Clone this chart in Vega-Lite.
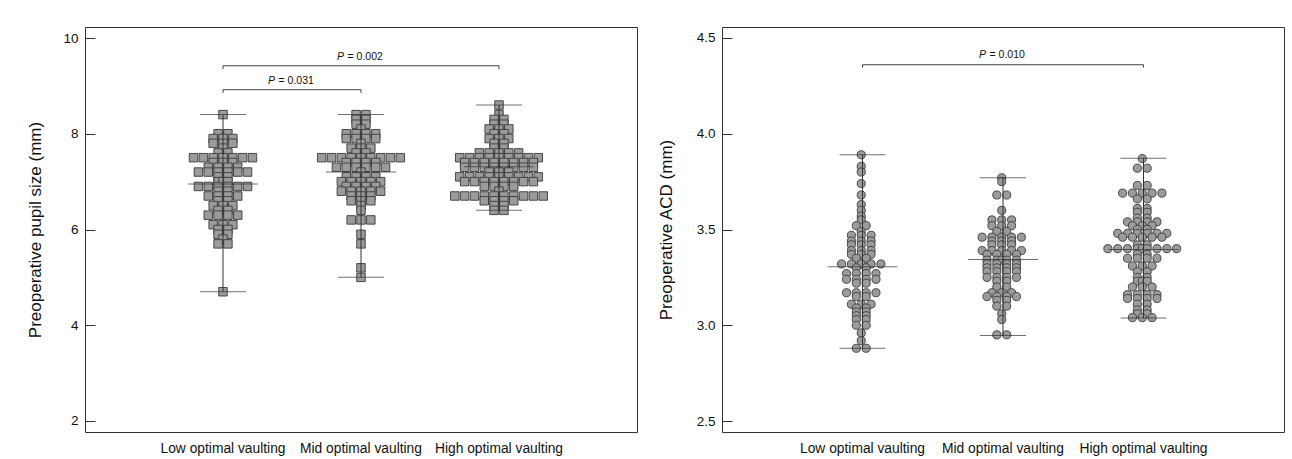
{
  "$schema": "https://vega.github.io/schema/vega-lite/v6.json",
  "background": "white",
  "padding": {"left": 26, "top": 26, "right": 0, "bottom": 0},
  "spacing": 18,
  "config": {
    "font": "Liberation Sans",
    "view": {"stroke": "#333333", "strokeWidth": 1},
    "axisX": {"ticks": false, "domain": false, "labelAngle": 0, "labelFontSize": 13.8, "labelPadding": 9, "labelColor": "#111111"},
    "axisY": {"grid": false, "domain": false, "tickSize": -10, "tickColor": "#333333", "labelPadding": 17, "labelFontSize": 13.5, "labelColor": "#111111", "titleFontSize": 17, "titleFontWeight": "normal", "titleColor": "#111111", "titlePadding": 18}
  },
  "datasets": {
    "pupil": [
      {"g":"Low","v":8.4,"dx":0},
      {"g":"Low","v":8.0,"dx":-1},{"g":"Low","v":8.0,"dx":1},
      {"g":"Low","v":7.9,"dx":-2},{"g":"Low","v":7.9,"dx":0},{"g":"Low","v":7.9,"dx":2},
      {"g":"Low","v":7.8,"dx":-2},{"g":"Low","v":7.8,"dx":0},{"g":"Low","v":7.8,"dx":2},
      {"g":"Low","v":7.7,"dx":0},
      {"g":"Low","v":7.6,"dx":-1},{"g":"Low","v":7.6,"dx":1},
      {"g":"Low","v":7.5,"dx":-6},{"g":"Low","v":7.5,"dx":-4},{"g":"Low","v":7.5,"dx":-2},{"g":"Low","v":7.5,"dx":0},{"g":"Low","v":7.5,"dx":2},{"g":"Low","v":7.5,"dx":4},{"g":"Low","v":7.5,"dx":6},
      {"g":"Low","v":7.4,"dx":-2},{"g":"Low","v":7.4,"dx":0},{"g":"Low","v":7.4,"dx":2},
      {"g":"Low","v":7.3,"dx":-3},{"g":"Low","v":7.3,"dx":-1},{"g":"Low","v":7.3,"dx":1},{"g":"Low","v":7.3,"dx":3},
      {"g":"Low","v":7.2,"dx":-5},{"g":"Low","v":7.2,"dx":-3},{"g":"Low","v":7.2,"dx":-1},{"g":"Low","v":7.2,"dx":1},{"g":"Low","v":7.2,"dx":3},{"g":"Low","v":7.2,"dx":5},
      {"g":"Low","v":7.1,"dx":-1},{"g":"Low","v":7.1,"dx":1},
      {"g":"Low","v":7.0,"dx":-1},{"g":"Low","v":7.0,"dx":0},{"g":"Low","v":7.0,"dx":1},
      {"g":"Low","v":6.9,"dx":-5},{"g":"Low","v":6.9,"dx":-3},{"g":"Low","v":6.9,"dx":-1},{"g":"Low","v":6.9,"dx":1},{"g":"Low","v":6.9,"dx":3},{"g":"Low","v":6.9,"dx":5},
      {"g":"Low","v":6.8,"dx":-1},{"g":"Low","v":6.8,"dx":1},
      {"g":"Low","v":6.7,"dx":-3},{"g":"Low","v":6.7,"dx":-1},{"g":"Low","v":6.7,"dx":1},{"g":"Low","v":6.7,"dx":3},
      {"g":"Low","v":6.6,"dx":-1},{"g":"Low","v":6.6,"dx":1},
      {"g":"Low","v":6.5,"dx":-2},{"g":"Low","v":6.5,"dx":0},{"g":"Low","v":6.5,"dx":2},
      {"g":"Low","v":6.4,"dx":-1},{"g":"Low","v":6.4,"dx":1},
      {"g":"Low","v":6.3,"dx":-3},{"g":"Low","v":6.3,"dx":-1},{"g":"Low","v":6.3,"dx":1},{"g":"Low","v":6.3,"dx":3},
      {"g":"Low","v":6.1,"dx":-2},{"g":"Low","v":6.1,"dx":0},{"g":"Low","v":6.1,"dx":2},
      {"g":"Low","v":6.0,"dx":-1},{"g":"Low","v":6.0,"dx":1},
      {"g":"Low","v":5.9,"dx":-1},{"g":"Low","v":5.9,"dx":1},
      {"g":"Low","v":5.8,"dx":0},
      {"g":"Low","v":5.7,"dx":-1},{"g":"Low","v":5.7,"dx":1},
      {"g":"Low","v":4.7,"dx":0},

      {"g":"Mid","v":8.4,"dx":-1},{"g":"Mid","v":8.4,"dx":1},
      {"g":"Mid","v":8.3,"dx":-1},{"g":"Mid","v":8.3,"dx":1},
      {"g":"Mid","v":8.2,"dx":-1},{"g":"Mid","v":8.2,"dx":1},
      {"g":"Mid","v":8.1,"dx":0},
      {"g":"Mid","v":8.0,"dx":-3},{"g":"Mid","v":8.0,"dx":-1},{"g":"Mid","v":8.0,"dx":1},{"g":"Mid","v":8.0,"dx":3},
      {"g":"Mid","v":7.9,"dx":-3},{"g":"Mid","v":7.9,"dx":-1},{"g":"Mid","v":7.9,"dx":1},{"g":"Mid","v":7.9,"dx":3},
      {"g":"Mid","v":7.8,"dx":0},
      {"g":"Mid","v":7.7,"dx":-2},{"g":"Mid","v":7.7,"dx":0},{"g":"Mid","v":7.7,"dx":2},
      {"g":"Mid","v":7.6,"dx":-1},{"g":"Mid","v":7.6,"dx":1},
      {"g":"Mid","v":7.5,"dx":-8},{"g":"Mid","v":7.5,"dx":-6},{"g":"Mid","v":7.5,"dx":-4},{"g":"Mid","v":7.5,"dx":-2},{"g":"Mid","v":7.5,"dx":0},{"g":"Mid","v":7.5,"dx":2},{"g":"Mid","v":7.5,"dx":4},{"g":"Mid","v":7.5,"dx":6},{"g":"Mid","v":7.5,"dx":8},
      {"g":"Mid","v":7.4,"dx":-3},{"g":"Mid","v":7.4,"dx":-1},{"g":"Mid","v":7.4,"dx":1},{"g":"Mid","v":7.4,"dx":3},
      {"g":"Mid","v":7.3,"dx":-5},{"g":"Mid","v":7.3,"dx":-3},{"g":"Mid","v":7.3,"dx":-1},{"g":"Mid","v":7.3,"dx":1},{"g":"Mid","v":7.3,"dx":3},{"g":"Mid","v":7.3,"dx":5},
      {"g":"Mid","v":7.2,"dx":0},
      {"g":"Mid","v":7.1,"dx":-3},{"g":"Mid","v":7.1,"dx":-1},{"g":"Mid","v":7.1,"dx":1},{"g":"Mid","v":7.1,"dx":3},
      {"g":"Mid","v":7.0,"dx":-4},{"g":"Mid","v":7.0,"dx":-2},{"g":"Mid","v":7.0,"dx":0},{"g":"Mid","v":7.0,"dx":2},{"g":"Mid","v":7.0,"dx":4},
      {"g":"Mid","v":6.9,"dx":-3},{"g":"Mid","v":6.9,"dx":-1},{"g":"Mid","v":6.9,"dx":1},{"g":"Mid","v":6.9,"dx":3},
      {"g":"Mid","v":6.8,"dx":-4},{"g":"Mid","v":6.8,"dx":-2},{"g":"Mid","v":6.8,"dx":0},{"g":"Mid","v":6.8,"dx":2},{"g":"Mid","v":6.8,"dx":4},
      {"g":"Mid","v":6.7,"dx":-2},{"g":"Mid","v":6.7,"dx":0},{"g":"Mid","v":6.7,"dx":2},
      {"g":"Mid","v":6.6,"dx":-2},{"g":"Mid","v":6.6,"dx":0},{"g":"Mid","v":6.6,"dx":2},
      {"g":"Mid","v":6.5,"dx":0},
      {"g":"Mid","v":6.4,"dx":0},
      {"g":"Mid","v":6.2,"dx":-2},{"g":"Mid","v":6.2,"dx":0},{"g":"Mid","v":6.2,"dx":2},
      {"g":"Mid","v":5.9,"dx":0},
      {"g":"Mid","v":5.7,"dx":0},
      {"g":"Mid","v":5.2,"dx":0},
      {"g":"Mid","v":5.0,"dx":0},

      {"g":"High","v":8.6,"dx":0},
      {"g":"High","v":8.4,"dx":0},
      {"g":"High","v":8.3,"dx":-1},{"g":"High","v":8.3,"dx":1},
      {"g":"High","v":8.2,"dx":-1},{"g":"High","v":8.2,"dx":1},
      {"g":"High","v":8.1,"dx":-2},{"g":"High","v":8.1,"dx":0},{"g":"High","v":8.1,"dx":2},
      {"g":"High","v":8.0,"dx":-1},{"g":"High","v":8.0,"dx":1},
      {"g":"High","v":7.9,"dx":-2},{"g":"High","v":7.9,"dx":0},{"g":"High","v":7.9,"dx":2},
      {"g":"High","v":7.8,"dx":-1},{"g":"High","v":7.8,"dx":1},
      {"g":"High","v":7.7,"dx":-1},{"g":"High","v":7.7,"dx":1},
      {"g":"High","v":7.6,"dx":-4},{"g":"High","v":7.6,"dx":-2},{"g":"High","v":7.6,"dx":0},{"g":"High","v":7.6,"dx":2},{"g":"High","v":7.6,"dx":4},
      {"g":"High","v":7.5,"dx":-8},{"g":"High","v":7.5,"dx":-6},{"g":"High","v":7.5,"dx":-4},{"g":"High","v":7.5,"dx":-2},{"g":"High","v":7.5,"dx":0},{"g":"High","v":7.5,"dx":2},{"g":"High","v":7.5,"dx":4},{"g":"High","v":7.5,"dx":6},{"g":"High","v":7.5,"dx":8},
      {"g":"High","v":7.4,"dx":-7},{"g":"High","v":7.4,"dx":-5},{"g":"High","v":7.4,"dx":-3},{"g":"High","v":7.4,"dx":-1},{"g":"High","v":7.4,"dx":1},{"g":"High","v":7.4,"dx":3},{"g":"High","v":7.4,"dx":5},{"g":"High","v":7.4,"dx":7},
      {"g":"High","v":7.3,"dx":-7},{"g":"High","v":7.3,"dx":-5},{"g":"High","v":7.3,"dx":-3},{"g":"High","v":7.3,"dx":-1},{"g":"High","v":7.3,"dx":1},{"g":"High","v":7.3,"dx":3},{"g":"High","v":7.3,"dx":5},{"g":"High","v":7.3,"dx":7},
      {"g":"High","v":7.2,"dx":-2},{"g":"High","v":7.2,"dx":0},{"g":"High","v":7.2,"dx":2},
      {"g":"High","v":7.1,"dx":-8},{"g":"High","v":7.1,"dx":-6},{"g":"High","v":7.1,"dx":-4},{"g":"High","v":7.1,"dx":-2},{"g":"High","v":7.1,"dx":0},{"g":"High","v":7.1,"dx":2},{"g":"High","v":7.1,"dx":4},{"g":"High","v":7.1,"dx":6},{"g":"High","v":7.1,"dx":8},
      {"g":"High","v":7.0,"dx":-7},{"g":"High","v":7.0,"dx":-5},{"g":"High","v":7.0,"dx":-3},{"g":"High","v":7.0,"dx":-1},{"g":"High","v":7.0,"dx":1},{"g":"High","v":7.0,"dx":3},{"g":"High","v":7.0,"dx":5},{"g":"High","v":7.0,"dx":7},
      {"g":"High","v":6.9,"dx":-3},{"g":"High","v":6.9,"dx":-1},{"g":"High","v":6.9,"dx":1},{"g":"High","v":6.9,"dx":3},
      {"g":"High","v":6.8,"dx":0},
      {"g":"High","v":6.7,"dx":-9},{"g":"High","v":6.7,"dx":-7},{"g":"High","v":6.7,"dx":-5},{"g":"High","v":6.7,"dx":-3},{"g":"High","v":6.7,"dx":-1},{"g":"High","v":6.7,"dx":1},{"g":"High","v":6.7,"dx":3},{"g":"High","v":6.7,"dx":5},{"g":"High","v":6.7,"dx":7},{"g":"High","v":6.7,"dx":9},
      {"g":"High","v":6.6,"dx":-3},{"g":"High","v":6.6,"dx":-1},{"g":"High","v":6.6,"dx":1},{"g":"High","v":6.6,"dx":3},
      {"g":"High","v":6.5,"dx":-1},{"g":"High","v":6.5,"dx":1},
      {"g":"High","v":6.4,"dx":-1},{"g":"High","v":6.4,"dx":1}
    ],
    "pupilStats": [
      {"g":"Low","min":4.7,"max":8.4,"mean":6.95},
      {"g":"Mid","min":5.0,"max":8.4,"mean":7.2},
      {"g":"High","min":6.4,"max":8.6,"mean":7.31}
    ],
    "pupilBr": [
      {"a":"Low","b":"Mid","y":8.92,"tip":8.85},
      {"a":"Low","b":"High","y":9.42,"tip":9.35}
    ],
    "p031": [{"g":"Low","y":9.11,"t":"= 0.031"}],
    "p002": [{"g":"Mid","y":9.61,"t":"= 0.002"}],
    "acd": [
      {"g":"Low","v":3.89,"dx":0},{"g":"Low","v":3.83,"dx":0},{"g":"Low","v":3.80,"dx":0},{"g":"Low","v":3.74,"dx":0},{"g":"Low","v":3.68,"dx":0},{"g":"Low","v":3.63,"dx":0},{"g":"Low","v":3.60,"dx":0},{"g":"Low","v":3.57,"dx":0},{"g":"Low","v":3.55,"dx":0},
      {"g":"Low","v":3.52,"dx":-1},{"g":"Low","v":3.52,"dx":1},
      {"g":"Low","v":3.49,"dx":0},
      {"g":"Low","v":3.47,"dx":-2},{"g":"Low","v":3.47,"dx":0},{"g":"Low","v":3.47,"dx":2},
      {"g":"Low","v":3.44,"dx":-2},{"g":"Low","v":3.44,"dx":0},{"g":"Low","v":3.44,"dx":2},
      {"g":"Low","v":3.42,"dx":-2},{"g":"Low","v":3.42,"dx":0},{"g":"Low","v":3.42,"dx":2},
      {"g":"Low","v":3.39,"dx":-2},{"g":"Low","v":3.39,"dx":0},{"g":"Low","v":3.39,"dx":2},
      {"g":"Low","v":3.37,"dx":-2},{"g":"Low","v":3.37,"dx":0},{"g":"Low","v":3.37,"dx":2},
      {"g":"Low","v":3.35,"dx":-1},{"g":"Low","v":3.35,"dx":1},
      {"g":"Low","v":3.32,"dx":-4},{"g":"Low","v":3.32,"dx":-2},{"g":"Low","v":3.32,"dx":0},{"g":"Low","v":3.32,"dx":2},{"g":"Low","v":3.32,"dx":4},
      {"g":"Low","v":3.30,"dx":-1},{"g":"Low","v":3.30,"dx":1},
      {"g":"Low","v":3.27,"dx":-3},{"g":"Low","v":3.27,"dx":-1},{"g":"Low","v":3.27,"dx":1},{"g":"Low","v":3.27,"dx":3},
      {"g":"Low","v":3.24,"dx":-3},{"g":"Low","v":3.24,"dx":-1},{"g":"Low","v":3.24,"dx":1},{"g":"Low","v":3.24,"dx":3},
      {"g":"Low","v":3.22,"dx":-1},{"g":"Low","v":3.22,"dx":1},
      {"g":"Low","v":3.17,"dx":-3},{"g":"Low","v":3.17,"dx":-1},{"g":"Low","v":3.17,"dx":1},{"g":"Low","v":3.17,"dx":3},
      {"g":"Low","v":3.15,"dx":-1},{"g":"Low","v":3.15,"dx":1},
      {"g":"Low","v":3.11,"dx":-2},{"g":"Low","v":3.11,"dx":0},{"g":"Low","v":3.11,"dx":2},
      {"g":"Low","v":3.09,"dx":-1},{"g":"Low","v":3.09,"dx":1},
      {"g":"Low","v":3.07,"dx":-1},{"g":"Low","v":3.07,"dx":1},
      {"g":"Low","v":3.05,"dx":-1},{"g":"Low","v":3.05,"dx":1},
      {"g":"Low","v":3.03,"dx":-1},{"g":"Low","v":3.03,"dx":1},
      {"g":"Low","v":3.00,"dx":-1},{"g":"Low","v":3.00,"dx":1},
      {"g":"Low","v":2.96,"dx":0},{"g":"Low","v":2.92,"dx":0},
      {"g":"Low","v":2.88,"dx":-1},{"g":"Low","v":2.88,"dx":1},

      {"g":"Mid","v":3.77,"dx":0},{"g":"Mid","v":3.75,"dx":0},
      {"g":"Mid","v":3.68,"dx":-1},{"g":"Mid","v":3.68,"dx":1},
      {"g":"Mid","v":3.60,"dx":0},
      {"g":"Mid","v":3.55,"dx":-2},{"g":"Mid","v":3.55,"dx":0},{"g":"Mid","v":3.55,"dx":2},
      {"g":"Mid","v":3.52,"dx":-2},{"g":"Mid","v":3.52,"dx":0},{"g":"Mid","v":3.52,"dx":2},
      {"g":"Mid","v":3.49,"dx":-1},{"g":"Mid","v":3.49,"dx":1},
      {"g":"Mid","v":3.46,"dx":-4},{"g":"Mid","v":3.46,"dx":-2},{"g":"Mid","v":3.46,"dx":0},{"g":"Mid","v":3.46,"dx":2},{"g":"Mid","v":3.46,"dx":4},
      {"g":"Mid","v":3.44,"dx":-2},{"g":"Mid","v":3.44,"dx":0},{"g":"Mid","v":3.44,"dx":2},
      {"g":"Mid","v":3.42,"dx":-2},{"g":"Mid","v":3.42,"dx":0},{"g":"Mid","v":3.42,"dx":2},
      {"g":"Mid","v":3.39,"dx":-4},{"g":"Mid","v":3.39,"dx":-2},{"g":"Mid","v":3.39,"dx":0},{"g":"Mid","v":3.39,"dx":2},{"g":"Mid","v":3.39,"dx":4},
      {"g":"Mid","v":3.37,"dx":-3},{"g":"Mid","v":3.37,"dx":-1},{"g":"Mid","v":3.37,"dx":1},{"g":"Mid","v":3.37,"dx":3},
      {"g":"Mid","v":3.34,"dx":-3},{"g":"Mid","v":3.34,"dx":-1},{"g":"Mid","v":3.34,"dx":0},{"g":"Mid","v":3.34,"dx":1},{"g":"Mid","v":3.34,"dx":3},
      {"g":"Mid","v":3.32,"dx":-3},{"g":"Mid","v":3.32,"dx":-1},{"g":"Mid","v":3.32,"dx":1},{"g":"Mid","v":3.32,"dx":3},
      {"g":"Mid","v":3.30,"dx":-3},{"g":"Mid","v":3.30,"dx":-1},{"g":"Mid","v":3.30,"dx":1},{"g":"Mid","v":3.30,"dx":3},
      {"g":"Mid","v":3.28,"dx":-3},{"g":"Mid","v":3.28,"dx":-1},{"g":"Mid","v":3.28,"dx":1},{"g":"Mid","v":3.28,"dx":3},
      {"g":"Mid","v":3.25,"dx":-3},{"g":"Mid","v":3.25,"dx":-1},{"g":"Mid","v":3.25,"dx":1},{"g":"Mid","v":3.25,"dx":3},
      {"g":"Mid","v":3.23,"dx":-1},{"g":"Mid","v":3.23,"dx":1},
      {"g":"Mid","v":3.20,"dx":-1},{"g":"Mid","v":3.20,"dx":1},
      {"g":"Mid","v":3.17,"dx":-2},{"g":"Mid","v":3.17,"dx":0},{"g":"Mid","v":3.17,"dx":2},
      {"g":"Mid","v":3.15,"dx":-3},{"g":"Mid","v":3.15,"dx":-1},{"g":"Mid","v":3.15,"dx":1},{"g":"Mid","v":3.15,"dx":3},
      {"g":"Mid","v":3.13,"dx":-1},{"g":"Mid","v":3.13,"dx":1},
      {"g":"Mid","v":3.10,"dx":-1},{"g":"Mid","v":3.10,"dx":1},
      {"g":"Mid","v":3.06,"dx":0},{"g":"Mid","v":3.03,"dx":0},
      {"g":"Mid","v":2.95,"dx":-1},{"g":"Mid","v":2.95,"dx":1},

      {"g":"High","v":3.87,"dx":0},
      {"g":"High","v":3.82,"dx":-1},{"g":"High","v":3.82,"dx":1},
      {"g":"High","v":3.73,"dx":-1},{"g":"High","v":3.73,"dx":1},
      {"g":"High","v":3.69,"dx":-4},{"g":"High","v":3.69,"dx":-2},{"g":"High","v":3.69,"dx":0},{"g":"High","v":3.69,"dx":2},{"g":"High","v":3.69,"dx":4},
      {"g":"High","v":3.66,"dx":-1},{"g":"High","v":3.66,"dx":1},
      {"g":"High","v":3.61,"dx":-1},{"g":"High","v":3.61,"dx":1},
      {"g":"High","v":3.59,"dx":-1},{"g":"High","v":3.59,"dx":1},
      {"g":"High","v":3.56,"dx":-1},{"g":"High","v":3.56,"dx":1},
      {"g":"High","v":3.54,"dx":-3},{"g":"High","v":3.54,"dx":-1},{"g":"High","v":3.54,"dx":1},{"g":"High","v":3.54,"dx":3},
      {"g":"High","v":3.52,"dx":-2},{"g":"High","v":3.52,"dx":0},{"g":"High","v":3.52,"dx":2},
      {"g":"High","v":3.50,"dx":-1},{"g":"High","v":3.50,"dx":1},
      {"g":"High","v":3.48,"dx":-5},{"g":"High","v":3.48,"dx":-3},{"g":"High","v":3.48,"dx":-1},{"g":"High","v":3.48,"dx":1},{"g":"High","v":3.48,"dx":3},{"g":"High","v":3.48,"dx":5},
      {"g":"High","v":3.46,"dx":-4},{"g":"High","v":3.46,"dx":-2},{"g":"High","v":3.46,"dx":0},{"g":"High","v":3.46,"dx":2},{"g":"High","v":3.46,"dx":4},
      {"g":"High","v":3.42,"dx":-1},{"g":"High","v":3.42,"dx":1},
      {"g":"High","v":3.40,"dx":-7},{"g":"High","v":3.40,"dx":-5},{"g":"High","v":3.40,"dx":-3},{"g":"High","v":3.40,"dx":-1},{"g":"High","v":3.40,"dx":0},{"g":"High","v":3.40,"dx":1},{"g":"High","v":3.40,"dx":3},{"g":"High","v":3.40,"dx":5},{"g":"High","v":3.40,"dx":7},
      {"g":"High","v":3.37,"dx":-1},{"g":"High","v":3.37,"dx":1},
      {"g":"High","v":3.35,"dx":-3},{"g":"High","v":3.35,"dx":-1},{"g":"High","v":3.35,"dx":1},{"g":"High","v":3.35,"dx":3},
      {"g":"High","v":3.31,"dx":-2},{"g":"High","v":3.31,"dx":0},{"g":"High","v":3.31,"dx":2},
      {"g":"High","v":3.28,"dx":-1},{"g":"High","v":3.28,"dx":1},
      {"g":"High","v":3.25,"dx":-1},{"g":"High","v":3.25,"dx":1},
      {"g":"High","v":3.23,"dx":-1},{"g":"High","v":3.23,"dx":0},{"g":"High","v":3.23,"dx":1},
      {"g":"High","v":3.20,"dx":-2},{"g":"High","v":3.20,"dx":0},{"g":"High","v":3.20,"dx":2},
      {"g":"High","v":3.16,"dx":-3},{"g":"High","v":3.16,"dx":-1},{"g":"High","v":3.16,"dx":1},{"g":"High","v":3.16,"dx":3},
      {"g":"High","v":3.14,"dx":-3},{"g":"High","v":3.14,"dx":-1},{"g":"High","v":3.14,"dx":1},{"g":"High","v":3.14,"dx":3},
      {"g":"High","v":3.11,"dx":-1},{"g":"High","v":3.11,"dx":1},
      {"g":"High","v":3.08,"dx":-1},{"g":"High","v":3.08,"dx":1},
      {"g":"High","v":3.06,"dx":-1},{"g":"High","v":3.06,"dx":1},
      {"g":"High","v":3.04,"dx":-2},{"g":"High","v":3.04,"dx":0},{"g":"High","v":3.04,"dx":2}
    ],
    "acdStats": [
      {"g":"Low","min":2.88,"max":3.89,"mean":3.305},
      {"g":"Mid","min":2.947,"max":3.77,"mean":3.344},
      {"g":"High","min":3.038,"max":3.872,"mean":3.395}
    ],
    "acdBr": [
      {"a":"Low","b":"High","y":4.36,"tip":4.345}
    ],
    "p010": [{"g":"Mid","y":4.41,"t":"= 0.010"}]
  },
  "hconcat": [
    {
      "width": 552,
      "height": 405,
      "layer": [
        {
          "data": {"name": "pupil"},
          "mark": {"type": "point", "shape": "square", "filled": true, "size": 72, "fill": "#9b9b9b", "stroke": "#3a3a3a", "strokeWidth": 0.9, "opacity": 1},
          "encoding": {
            "x": {"field": "g", "type": "nominal", "title": null, "scale": {"type": "band", "domain": ["Low", "Mid", "High"], "paddingInner": 0, "paddingOuter": 0.5}, "axis": {"labelExpr": "datum.label + ' optimal vaulting'"}},
            "xOffset": {"field": "dx", "type": "quantitative", "scale": {"domain": [-13.8, 13.8]}},
            "y": {"field": "v", "type": "quantitative", "title": "Preoperative pupil size (mm)", "scale": {"domain": [1.77, 10.23], "nice": false, "zero": false}, "axis": {"values": [2, 4, 6, 8, 10], "titlePadding": 18}}
          }
        },
        {
          "data": {"name": "pupilStats"},
          "mark": {"type": "rule", "color": "#333333", "strokeWidth": 1},
          "encoding": {"x": {"field": "g", "type": "nominal"}, "y": {"field": "min", "type": "quantitative"}, "y2": {"field": "max"}}
        },
        {
          "data": {"name": "pupilStats"},
          "mark": {"type": "tick", "orient": "horizontal", "size": 46, "thickness": 1, "color": "#333333"},
          "encoding": {"x": {"field": "g", "type": "nominal"}, "y": {"field": "min", "type": "quantitative"}}
        },
        {
          "data": {"name": "pupilStats"},
          "mark": {"type": "tick", "orient": "horizontal", "size": 46, "thickness": 1, "color": "#333333"},
          "encoding": {"x": {"field": "g", "type": "nominal"}, "y": {"field": "max", "type": "quantitative"}}
        },
        {
          "data": {"name": "pupilStats"},
          "mark": {"type": "tick", "orient": "horizontal", "size": 70, "thickness": 1, "color": "#333333"},
          "encoding": {"x": {"field": "g", "type": "nominal"}, "y": {"field": "mean", "type": "quantitative"}}
        },
        {
          "data": {"name": "pupilBr"},
          "mark": {"type": "rule", "color": "#444444", "strokeWidth": 1},
          "encoding": {"x": {"field": "a", "type": "nominal"}, "x2": {"field": "b"}, "y": {"field": "y", "type": "quantitative"}}
        },
        {
          "data": {"name": "pupilBr"},
          "mark": {"type": "rule", "color": "#444444", "strokeWidth": 1},
          "encoding": {"x": {"field": "a", "type": "nominal"}, "y": {"field": "tip", "type": "quantitative"}, "y2": {"field": "y"}}
        },
        {
          "data": {"name": "pupilBr"},
          "mark": {"type": "rule", "color": "#444444", "strokeWidth": 1},
          "encoding": {"x": {"field": "b", "type": "nominal"}, "y": {"field": "tip", "type": "quantitative"}, "y2": {"field": "y"}}
        },
        {
          "data": {"name": "p031"},
          "mark": {"type": "text", "text": "P", "fontStyle": "italic", "fontSize": 10.5, "align": "right", "baseline": "middle", "dx": 52, "color": "#111111"},
          "encoding": {"x": {"field": "g", "type": "nominal"}, "y": {"field": "y", "type": "quantitative"}}
        },
        {
          "data": {"name": "p031"},
          "mark": {"type": "text", "fontSize": 10.5, "align": "left", "baseline": "middle", "dx": 55.5, "color": "#111111"},
          "encoding": {"x": {"field": "g", "type": "nominal"}, "y": {"field": "y", "type": "quantitative"}, "text": {"field": "t"}}
        },
        {
          "data": {"name": "p002"},
          "mark": {"type": "text", "text": "P", "fontStyle": "italic", "fontSize": 10.5, "align": "right", "baseline": "middle", "dx": -17, "color": "#111111"},
          "encoding": {"x": {"field": "g", "type": "nominal"}, "y": {"field": "y", "type": "quantitative"}}
        },
        {
          "data": {"name": "p002"},
          "mark": {"type": "text", "fontSize": 10.5, "align": "left", "baseline": "middle", "dx": -13.5, "color": "#111111"},
          "encoding": {"x": {"field": "g", "type": "nominal"}, "y": {"field": "y", "type": "quantitative"}, "text": {"field": "t"}}
        }
      ]
    },
    {
      "width": 562,
      "height": 405,
      "layer": [
        {
          "data": {"name": "acd"},
          "mark": {"type": "point", "shape": "circle", "filled": true, "size": 66, "fill": "#9b9b9b", "stroke": "#3a3a3a", "strokeWidth": 0.9, "opacity": 1},
          "encoding": {
            "x": {"field": "g", "type": "nominal", "title": null, "scale": {"type": "band", "domain": ["Low", "Mid", "High"], "paddingInner": 0, "paddingOuter": 0.5}, "axis": {"labelExpr": "datum.label + ' optimal vaulting'"}},
            "xOffset": {"field": "dx", "type": "quantitative", "scale": {"domain": [-14.05, 14.05]}},
            "y": {"field": "v", "type": "quantitative", "title": "Preoperative ACD (mm)", "scale": {"domain": [2.443, 4.557], "nice": false, "zero": false}, "axis": {"values": [2.5, 3, 3.5, 4, 4.5], "format": ".1f", "titlePadding": 21}}
          }
        },
        {
          "data": {"name": "acdStats"},
          "mark": {"type": "rule", "color": "#333333", "strokeWidth": 1},
          "encoding": {"x": {"field": "g", "type": "nominal"}, "y": {"field": "min", "type": "quantitative"}, "y2": {"field": "max"}}
        },
        {
          "data": {"name": "acdStats"},
          "mark": {"type": "tick", "orient": "horizontal", "size": 46, "thickness": 1, "color": "#333333"},
          "encoding": {"x": {"field": "g", "type": "nominal"}, "y": {"field": "min", "type": "quantitative"}}
        },
        {
          "data": {"name": "acdStats"},
          "mark": {"type": "tick", "orient": "horizontal", "size": 46, "thickness": 1, "color": "#333333"},
          "encoding": {"x": {"field": "g", "type": "nominal"}, "y": {"field": "max", "type": "quantitative"}}
        },
        {
          "data": {"name": "acdStats"},
          "mark": {"type": "tick", "orient": "horizontal", "size": 70, "thickness": 1, "color": "#333333"},
          "encoding": {"x": {"field": "g", "type": "nominal"}, "y": {"field": "mean", "type": "quantitative"}}
        },
        {
          "data": {"name": "acdBr"},
          "mark": {"type": "rule", "color": "#444444", "strokeWidth": 1},
          "encoding": {"x": {"field": "a", "type": "nominal"}, "x2": {"field": "b"}, "y": {"field": "y", "type": "quantitative"}}
        },
        {
          "data": {"name": "acdBr"},
          "mark": {"type": "rule", "color": "#444444", "strokeWidth": 1},
          "encoding": {"x": {"field": "a", "type": "nominal"}, "y": {"field": "tip", "type": "quantitative"}, "y2": {"field": "y"}}
        },
        {
          "data": {"name": "acdBr"},
          "mark": {"type": "rule", "color": "#444444", "strokeWidth": 1},
          "encoding": {"x": {"field": "b", "type": "nominal"}, "y": {"field": "tip", "type": "quantitative"}, "y2": {"field": "y"}}
        },
        {
          "data": {"name": "p010"},
          "mark": {"type": "text", "text": "P", "fontStyle": "italic", "fontSize": 10.5, "align": "right", "baseline": "middle", "dx": -17, "color": "#111111"},
          "encoding": {"x": {"field": "g", "type": "nominal"}, "y": {"field": "y", "type": "quantitative"}}
        },
        {
          "data": {"name": "p010"},
          "mark": {"type": "text", "fontSize": 10.5, "align": "left", "baseline": "middle", "dx": -13.5, "color": "#111111"},
          "encoding": {"x": {"field": "g", "type": "nominal"}, "y": {"field": "y", "type": "quantitative"}, "text": {"field": "t"}}
        }
      ]
    }
  ]
}
